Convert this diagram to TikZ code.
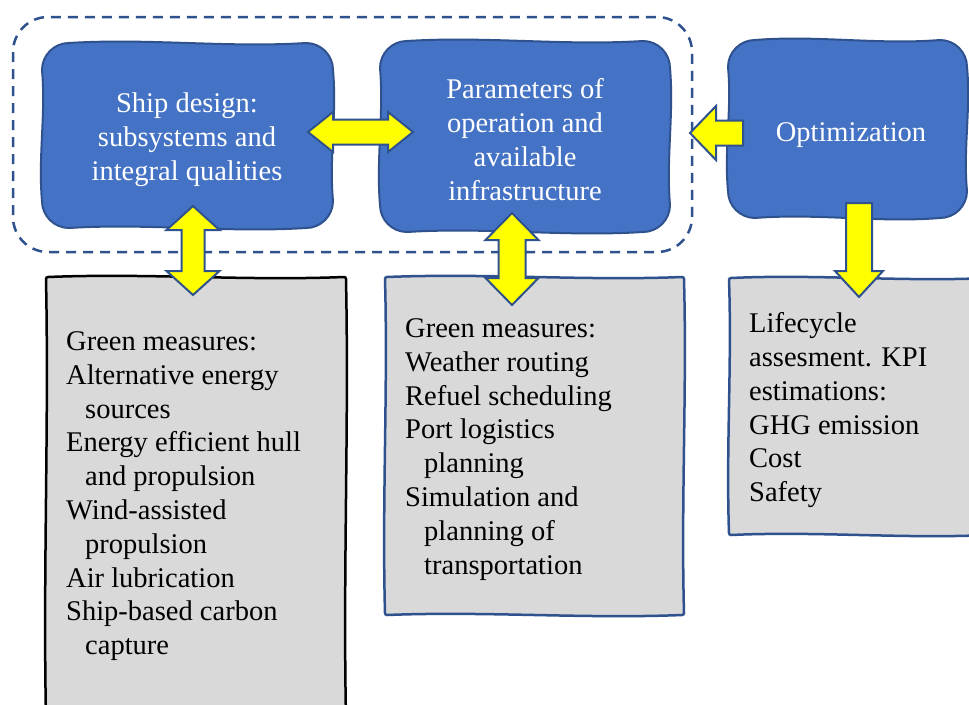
\documentclass[tikz,border=0pt]{standalone}
\usepackage{fontspec}
\setmainfont{Liberation Serif}
\usetikzlibrary{calc}
\definecolor{bfill}{HTML}{4472C4}
\definecolor{bline}{HTML}{2F528F}
\definecolor{gfill}{HTML}{D9D9D9}
\definecolor{yel}{HTML}{FFFF00}
% wavy box: #1 style, #2 x1, #3 y1, #4 x2, #5 y2, #6 corner r, #7 horiz amp, #8 vert amp
\newcommand\wbox[8]{%
\path[#1] ({#2+#6},#3) .. controls ({#2+#6+(#4-#2-2*#6)/3},{#3-#7}) and ({#4-#6-(#4-#2-2*#6)/3},{#3+#7}) .. ({#4-#6},#3)
 .. controls ({#4-0.45*#6},#3) and (#4,{#3+0.45*#6}) .. (#4,{#3+#6})
 .. controls ({#4+#8},{#3+#6+(#5-#3-2*#6)/3}) and ({#4-#8},{#5-#6-(#5-#3-2*#6)/3}) .. (#4,{#5-#6})
 .. controls (#4,{#5-0.45*#6}) and ({#4-0.45*#6},#5) .. ({#4-#6},#5)
 .. controls ({#4-#6-(#4-#2-2*#6)/3},{#5+#7}) and ({#2+#6+(#4-#2-2*#6)/3},{#5-#7}) .. ({#2+#6},#5)
 .. controls ({#2+0.45*#6},#5) and (#2,{#5-0.45*#6}) .. (#2,{#5-#6})
 .. controls ({#2-#8},{#5-#6-(#5-#3-2*#6)/3}) and ({#2+#8},{#3+#6+(#5-#3-2*#6)/3}) .. (#2,{#3+#6})
 .. controls (#2,{#3+0.45*#6}) and ({#2+0.45*#6},#3) .. cycle;}
% vertical double arrow: #1 top tip, #2 bottom tip, #3 shaft half, #4 head half, #5 head length
\newcommand\vdarrow[5]{%
\draw[blockarrow] let \p1=(#1), \p2=(#2) in
 (\x1,\y1) -- (\x1+#4pt,\y1-#5pt) -- (\x1+#3pt,\y1-#5pt) -- (\x1+#3pt,\y2+#5pt) -- (\x1+#4pt,\y2+#5pt)
 -- (\x1,\y2) -- (\x1-#4pt,\y2+#5pt) -- (\x1-#3pt,\y2+#5pt) -- (\x1-#3pt,\y1-#5pt) -- (\x1-#4pt,\y1-#5pt) -- cycle;}
% horizontal double arrow: #1 left tip, #2 right tip
\newcommand\hdarrow[5]{%
\draw[blockarrow] let \p1=(#1), \p2=(#2) in
 (\x1,\y1) -- (\x1+#5pt,\y1+#4pt) -- (\x1+#5pt,\y1+#3pt) -- (\x2-#5pt,\y1+#3pt) -- (\x2-#5pt,\y1+#4pt)
 -- (\x2,\y1) -- (\x2-#5pt,\y1-#4pt) -- (\x2-#5pt,\y1-#3pt) -- (\x1+#5pt,\y1-#3pt) -- (\x1+#5pt,\y1-#4pt) -- cycle;}
% single left arrow: #1 tip (left), #2 tail (right)
\newcommand\larrow[5]{%
\draw[blockarrow] let \p1=(#1), \p2=(#2) in
 (\x1,\y1) -- (\x1+#5pt,\y1+#4pt) -- (\x1+#5pt,\y1+#3pt) -- (\x2,\y1+#3pt) -- (\x2,\y1-#3pt)
 -- (\x1+#5pt,\y1-#3pt) -- (\x1+#5pt,\y1-#4pt) -- cycle;}
% single down arrow: #1 tail (top), #2 tip (bottom)
\newcommand\darrow[5]{%
\draw[blockarrow] let \p1=(#1), \p2=(#2) in
 (\x2,\y2) -- (\x2+#4pt,\y2+#5pt) -- (\x2+#3pt,\y2+#5pt) -- (\x2+#3pt,\y1) -- (\x2-#3pt,\y1)
 -- (\x2-#3pt,\y2+#5pt) -- (\x2-#4pt,\y2+#5pt) -- cycle;}
\begin{document}
\begin{tikzpicture}[x=1pt,y=-1pt,
  bluebox/.style={fill=bfill,draw=bline,line width=2pt},
  graybox/.style={fill=gfill,draw=bline,line width=2.5pt},
  graybk/.style={fill=gfill,draw=black,line width=2.5pt},
  blockarrow/.style={fill=yel,draw=bline,line width=2pt,line join=miter},
  container/.style={draw=bline,line width=2.5pt,dash pattern=on 10pt off 7pt,rounded corners=35pt},
  bluetext/.style={text=white,align=center,inner sep=0pt,font=\fontsize{28.5pt}{34pt}\selectfont},
  listtext/.style={text=black,align=left,inner sep=0pt,font=\fontsize{28.5pt}{33.8pt}\selectfont}]
\useasboundingbox (0,0) rectangle (969,704);
\clip (0,0) rectangle (969,704);
\fill[white] (0,0) rectangle (969,704);
% dashed container
\draw[container] (13,17) rectangle (692,252);
% blue boxes
\wbox{bluebox}{42}{43}{333}{228}{27}{5}{4}
\wbox{bluebox}{380}{41}{670}{232}{27}{5}{4}
\wbox{bluebox}{728}{40}{967}{218}{27}{5}{4}
% gray boxes
\wbox{graybk}{46}{277}{346}{720}{2}{4}{3}
\wbox{graybox}{385}{277}{684}{615}{2}{4}{3}
\wbox{graybox}{729}{278}{990}{535}{2}{4}{3}
% texts
\node[bluetext,anchor=north] (t1) at (187,92.5) {Ship design:\\subsystems and\\integral qualities};
\node[bluetext,anchor=north] (t2) at (525,78.5) {Parameters of\\operation and\\available\\infrastructure};
\node[bluetext,anchor=base] (t3) at (851,141) {Optimization};
\node[listtext,anchor=north west] (g1) at (66,331.5) {Green measures:\\Alternative energy\\\hspace*{19pt}sources\\Energy efficient hull\\\hspace*{19pt}and propulsion\\Wind-assisted\\\hspace*{19pt}propulsion\\Air lubrication\\Ship-based carbon\\\hspace*{19pt}capture};
\node[listtext,anchor=north west] (g2) at (405,318.5) {Green measures:\\Weather routing\\Refuel scheduling\\Port logistics\\\hspace*{19pt}planning\\Simulation and\\\hspace*{19pt}planning of\\\hspace*{19pt}transportation};
\node[listtext,anchor=north west] (g3) at (749,312.5) {Lifecycle\\assesment. KPI\\estimations:\\GHG emission\\Cost\\Safety};
% arrow end points
\coordinate (a1l) at (308,132);
\coordinate (a1r) at (413,132);
\coordinate (a2t) at (193,206);
\coordinate (a2b) at (193,295);
\coordinate (a3t) at (512,213);
\coordinate (a3b) at (512,305);
\coordinate (a4tip) at (690,133);
\coordinate (a4tail) at (743,133);
\coordinate (a5tail) at (859,203);
\coordinate (a5tip) at (859,297);
% block arrows
\hdarrow{a1l}{a1r}{12.5}{20}{25}
\vdarrow{a2t}{a2b}{11.5}{26.5}{24}
\vdarrow{a3t}{a3b}{13.5}{26.5}{27}
\larrow{a4tip}{a4tail}{12.5}{27}{26}
\darrow{a5tail}{a5tip}{13}{24}{26}
\end{tikzpicture}
\end{document}
